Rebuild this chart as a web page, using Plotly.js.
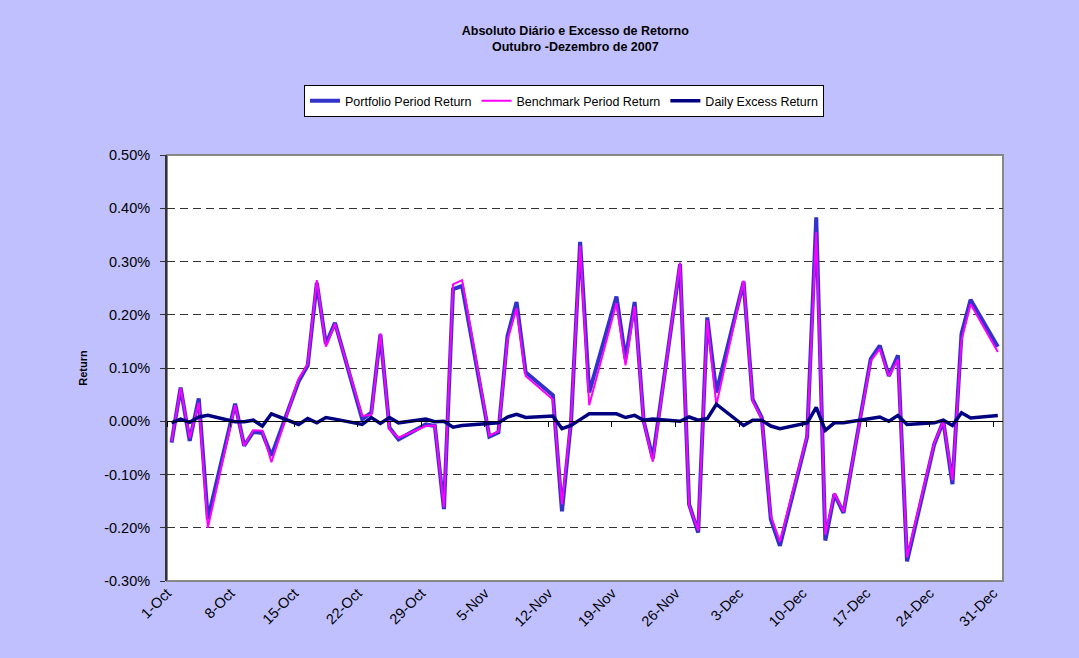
<!DOCTYPE html>
<html>
<head>
<meta charset="utf-8">
<script src="https://cdn.plot.ly/plotly-3.0.1.min.js"></script>
<style>html,body{margin:0;padding:0;background:#C0C0FF;}#chart{width:1079px;height:658px;}</style>
</head>
<body>
<div id="chart"></div>
<script>
// Business days, Oct–Dec 2007
const dates = [
  '2007-10-01','2007-10-02','2007-10-03','2007-10-04','2007-10-05',
  '2007-10-08','2007-10-09','2007-10-10','2007-10-11','2007-10-12',
  '2007-10-15','2007-10-16','2007-10-17','2007-10-18','2007-10-19',
  '2007-10-22','2007-10-23','2007-10-24','2007-10-25','2007-10-26',
  '2007-10-29','2007-10-30','2007-10-31','2007-11-01','2007-11-02',
  '2007-11-05','2007-11-06','2007-11-07','2007-11-08','2007-11-09',
  '2007-11-12','2007-11-13','2007-11-14','2007-11-15','2007-11-16',
  '2007-11-19','2007-11-20','2007-11-21','2007-11-22','2007-11-23',
  '2007-11-26','2007-11-27','2007-11-28','2007-11-29','2007-11-30',
  '2007-12-03','2007-12-04','2007-12-05','2007-12-06','2007-12-07',
  '2007-12-10','2007-12-11','2007-12-12','2007-12-13','2007-12-14',
  '2007-12-17','2007-12-18','2007-12-19','2007-12-20','2007-12-21',
  '2007-12-24','2007-12-25','2007-12-26','2007-12-27','2007-12-28',
  '2007-12-31'
];
// Returns in percent
const portfolioReturn = [
  -0.040, 0.063, -0.037, 0.043, -0.184,
  0.033, -0.046, -0.020, -0.022, -0.065,
  0.075, 0.105, 0.260, 0.145, 0.185,
  0.004, 0.016, 0.163, -0.012, -0.034,
  -0.006, -0.009, -0.165, 0.248, 0.254,
  -0.029, -0.021, 0.160, 0.224, 0.092,
  0.049, -0.169, 0.000, 0.337, 0.054,
  0.234, 0.117, 0.224, 0.000, -0.070,
  0.295, -0.156, -0.209, 0.195, 0.054,
  0.262, 0.041, 0.007, -0.184, -0.234,
  -0.029, 0.383, -0.224, -0.137, -0.172,
  0.117, 0.142, 0.085, 0.124, -0.263,
  -0.043, 0.000, -0.118, 0.164, 0.228,
  0.140
];
const benchmarkReturn = [
  -0.038, 0.062, -0.032, 0.035, -0.200,
  0.030, -0.046, -0.017, -0.018, -0.077,
  0.080, 0.107, 0.265, 0.140, 0.183,
  0.010, 0.012, 0.165, -0.015, -0.031,
  -0.009, -0.008, -0.162, 0.257, 0.265,
  -0.027, -0.019, 0.153, 0.212, 0.085,
  0.041, -0.156, 0.004, 0.330, 0.030,
  0.222, 0.105, 0.216, 0.000, -0.076,
  0.298, -0.158, -0.205, 0.190, 0.030,
  0.264, 0.038, 0.005, -0.178, -0.226,
  -0.027, 0.356, -0.213, -0.135, -0.170,
  0.113, 0.136, 0.085, 0.116, -0.256,
  -0.041, 0.000, -0.111, 0.152, 0.220,
  0.130
];
const excessReturn = [
  -0.003, 0.004, -0.002, 0.008, 0.011,
  -0.001, -0.001, 0.002, -0.009, 0.014,
  -0.006, 0.005, -0.003, 0.007, 0.004,
  -0.006, 0.007, -0.004, 0.007, -0.003,
  0.004, -0.001, 0.000, -0.011, -0.008,
  -0.005, -0.003, 0.008, 0.013, 0.007,
  0.010, -0.014, -0.008, 0.003, 0.014,
  0.014, 0.007, 0.011, 0.002, 0.004,
  0.000, 0.008, 0.002, 0.005, 0.032,
  -0.008, 0.002, 0.002, -0.009, -0.014,
  -0.003, 0.026, -0.017, -0.003, -0.003,
  0.005, 0.008, 0.000, 0.011, -0.006,
  -0.003, 0.002, -0.008, 0.016, 0.006,
  0.011
];
const yTickVals = [-0.3, -0.2, -0.1, 0, 0.1, 0.2, 0.3, 0.4, 0.5];
const yTickText = ['-0.30%','-0.20%','-0.10%','0.00%','0.10%','0.20%','0.30%','0.40%','0.50%'];
const seriesNames = ['Portfolio Period Return','Benchmark Period Return','Daily Excess Return'];

// points sit in the middle of each day slot (Excel date axis)
const xs = dates.map(d => d + ' 12:00');
const FONT = 'Liberation Sans, Arial, sans-serif';

const traces = [
  {x: xs, y: portfolioReturn, name: seriesNames[0], type: 'scatter', mode: 'lines',
   line: {color: '#3333CC', width: 4}},
  {x: xs, y: benchmarkReturn, name: seriesNames[1], type: 'scatter', mode: 'lines',
   line: {color: '#FF00FF', width: 2}},
  {x: xs, y: excessReturn, name: seriesNames[2], type: 'scatter', mode: 'lines',
   line: {color: '#000080', width: 3.5}},
  // carrier for the zero-line axis with tick marks
  {x: xs, y: excessReturn, xaxis: 'x2', type: 'scatter', mode: 'lines',
   line: {width: 0, color: 'rgba(0,0,0,0)'}, showlegend: false, hoverinfo: 'skip'}
];

const xRange = ['2007-10-01', '2008-01-01 01:40'];

const layout = {
  width: 1079, height: 658,
  paper_bgcolor: '#C0C0FF',
  plot_bgcolor: '#FFFFFF',
  margin: {l: 167, r: 76, t: 155, b: 77},
  font: {family: FONT, color: '#000'},
  title: {
    text: '<b>Absoluto Diário e Excesso de Retorno</b><br><b>Outubro -Dezembro de 2007</b>',
    font: {family: FONT, size: 12.5, color: '#000'},
    x: 527/1079, xref: 'paper', xanchor: 'center',
    y: 1 - 35/658, yanchor: 'top'
  },
  showlegend: true,
  legend: {
    orientation: 'h', x: (304-167)/836, y: 1.164, xanchor: 'left', yanchor: 'top',
    bgcolor: '#FFFFFF', bordercolor: '#000000', borderwidth: 1,
    font: {family: FONT, size: 12.5, color: '#000'}
  },
  xaxis: {
    type: 'date', range: xRange,
    tick0: '2007-10-01', dtick: 7*86400000,
    tickformat: '%-d-%b', tickangle: -45,
    tickfont: {family: FONT, size: 14.5, color: '#000'},
    showgrid: false, zeroline: false, showline: false, ticks: '',
    fixedrange: true
  },
  xaxis2: {
    type: 'date', range: xRange, overlaying: 'x', anchor: 'free', position: 0.375,
    tick0: '2007-10-01', dtick: 7*86400000,
    showticklabels: false, showgrid: false, zeroline: false,
    showline: true, linecolor: '#000', linewidth: 1,
    ticks: 'outside', ticklen: 5, tickcolor: '#000', tickwidth: 1
  },
  yaxis: {
    range: [-0.3, 0.5], tickvals: yTickVals, ticktext: yTickText,
    tickfont: {family: FONT, size: 14.5, color: '#000'},
    ticklabelstandoff: 7,
    showgrid: true, gridcolor: '#333333', gridwidth: 1, griddash: '8px,5px',
    zeroline: false,
    showline: true, linecolor: '#333333', linewidth: 2,
    ticks: 'outside', ticklen: 5, tickcolor: '#333333',
    title: {text: '<b>Return</b>', font: {family: FONT, size: 11, color: '#000'}, standoff: 14}
  },
  shapes: [
    {type: 'rect', xref: 'paper', yref: 'paper', x0: 0, x1: 1, y0: 0, y1: 1,
     line: {color: '#888888', width: 2}, layer: 'below', fillcolor: 'rgba(0,0,0,0)'}
  ]
};

Plotly.newPlot('chart', traces, layout, {displayModeBar: false, staticPlot: true});
</script>
</body>
</html>
